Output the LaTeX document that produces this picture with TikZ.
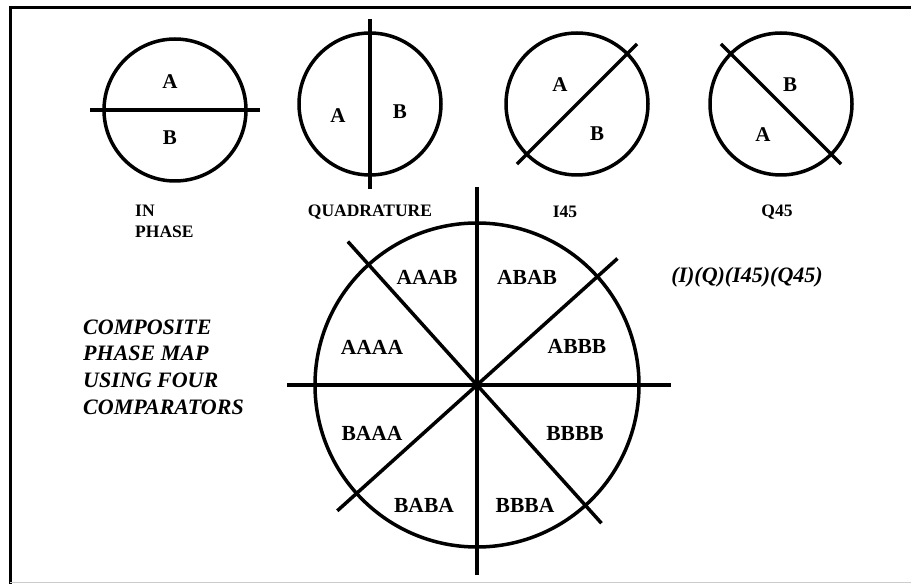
\documentclass[tikz,border=0pt]{standalone}
\usepackage{fontspec}
\setmainfont{Liberation Serif}
\usetikzlibrary{positioning, calc}

\begin{document}
\begin{tikzpicture}[x=1pt, y=1pt,
  ring/.style={line width=3.5pt},
  cut/.style={line width=3.5pt},
  letter/.style={font=\fontsize{21}{21}\selectfont\bfseries},
  caption/.style={font=\fontsize{17.5}{21}\selectfont\bfseries, inner sep=0pt},
  sector/.style={font=\fontsize{21.5}{21.5}\selectfont\bfseries},
  note/.style={font=\fontsize{22}{26.7}\selectfont\bfseries\itshape, align=left, inner sep=0pt}]
  \useasboundingbox (0,0) rectangle (911,584);
  % frame
  \draw[line width=3pt] (10,0) -- (10,576) -- (911,576);
  \draw[gray!40, line width=1pt] (10,1) -- (911,1);

  % the four single comparators
  \foreach \c/\x/\y/\ang in {ip/175/474/0, qd/370/480/90, ifs/577/480/45, qfs/781/480/135} {
    \coordinate (\c) at (\x,\y);
    \draw[ring] (\c) circle (71);
    \draw[cut] ($(\c)+(\ang:-85)$) -- ($(\c)+(\ang:85)$);
  }
  \node[letter] (ipA) at ($(ip)+(-5,28)$) {A};
  \node[letter] (ipB) at ($(ip)+(-5,-28)$) {B};
  \node[letter] (qdA) at ($(qd)+(-32,-12)$) {A};
  \node[letter] (qdB) at ($(qd)+(30,-8)$) {B};
  \node[letter] (ifsA) at ($(ifs)+(-17,19)$) {A};
  \node[letter] (ifsB) at ($(ifs)+(20,-30)$) {B};
  \node[letter] (qfsB) at ($(qfs)+(9,19)$) {B};
  \node[letter] (qfsA) at ($(qfs)+(-18,-31)$) {A};

  \node[caption, align=left, anchor=north west] (ipcap) at (135,379) {IN\\PHASE};
  \node[caption] (qdcap) at (370,372) {QUADRATURE};
  \node[caption] (ifscap) at (565,372) {I45};
  \node[caption] (qfscap) at (777,372) {Q45};

  % composite map
  \coordinate (o) at (477,199);
  \draw[ring] (o) circle (162);
  \draw[cut] ($(o)+(0,-190)$) -- ($(o)+(0,198)$);
  \draw[cut] ($(o)+(-190,0)$) -- ($(o)+(194,0)$);
  \draw[cut] ($(o)+(132:193)$) -- ($(o)+(312:186)$);
  \draw[cut] ($(o)+(222:188)$) -- ($(o)+(42:189)$);
  \foreach \t/\dx/\dy in {AAAB/-50/108, ABAB/50/108, AAAA/-105/38, ABBB/100/39,
                          BAAA/-105/-48, BBBB/98/-48, BABA/-53/-120, BBBA/48/-120} {
    \node[sector] (s\t) at ($(o)+(\dx,\dy)$) {\t};
  }

  \node[note, anchor=west] (title) at (83,217) {COMPOSITE\\PHASE MAP\\USING FOUR\\COMPARATORS};
  \node[note] (order) at (747,307) {(I)(Q)(I45)(Q45)};
\end{tikzpicture}
\end{document}
